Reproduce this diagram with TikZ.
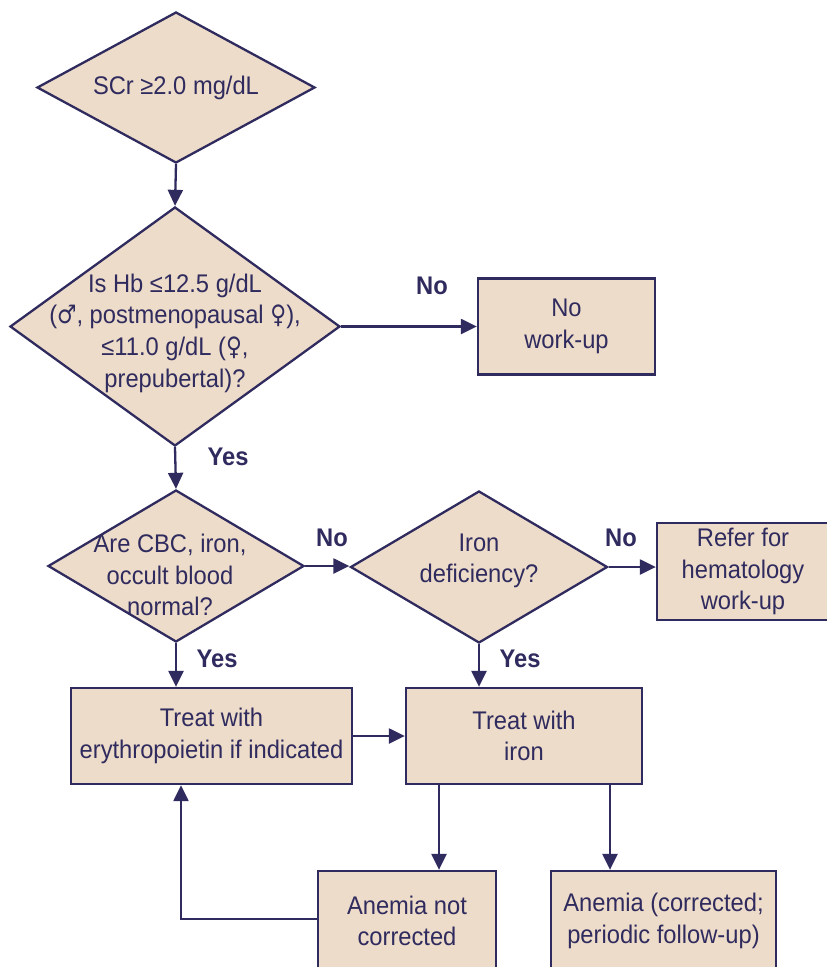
\documentclass[tikz,border=0pt]{standalone}
\usepackage{fontspec}
\setmainfont[FakeStretch=0.93]{Liberation Sans}
\newfontfamily\symfont[FakeStretch=0.85]{DejaVu Sans}
\usetikzlibrary{shapes.geometric,arrows.meta}
\definecolor{boxfill}{RGB}{237,220,201}
\definecolor{ink}{RGB}{48,43,94}
\newcommand{\male}{{\symfont ♂}}
\newcommand{\female}{{\symfont ♀}}
\tikzset{
  dia/.style={diamond,draw=ink,fill=boxfill,line width=2.3pt,inner sep=0pt},
  rbox/.style={rectangle,draw=ink,fill=boxfill,line width=2.3pt,inner sep=0pt,align=center,text=ink,font=\fontsize{25.5}{31.5}\selectfont},
  txt/.style={align=center,text=ink,inner sep=0pt,font=\fontsize{25.5}{31.7}\selectfont},
  lab/.style={text=ink,inner sep=0pt,font=\fontsize{25.5}{28}\selectfont\bfseries},
  conn/.style={draw=ink,line width=2.3pt,-{Triangle[length=16pt,width=15pt]}},
}
\begin{document}
\begin{tikzpicture}[x=1pt,y=-1pt]
\useasboundingbox (0,0) rectangle (827,967);
% diamonds
\node[dia,minimum width=278pt,minimum height=151pt] (d1) at (176,87.5) {};
\node[txt] (t1) at (d1) {SCr ≥2.0 mg/dL};
\node[dia,minimum width=330pt,minimum height=239pt] (d2) at (175,326.5) {};
\node[txt] (t2) at (175,333) {Is Hb ≤12.5 g/dL\\(\male, postmenopausal \female),\\≤11.0 g/dL (\female,\\prepubertal)?};
\node[dia,minimum width=256pt,minimum height=152pt] (d3) at (176,566) {};
\node[txt] (t3) at (170,575) {Are CBC, iron,\\occult blood\\normal?};
\node[dia,minimum width=257pt,minimum height=152pt] (d4) at (479,567) {};
\node[txt] (t4) at (479,561) {Iron\\deficiency?};
% boxes
\node[rbox,minimum width=177pt,minimum height=96pt] (b1) at (566.5,326.5) {No\\work-up};
\node[rbox,minimum width=172pt,minimum height=97pt] (b2) at (743,571.5) {Refer for\\hematology\\work-up};
\node[rbox,minimum width=281pt,minimum height=96pt] (b3) at (211.5,736) {Treat with\\erythropoietin if indicated};
\node[rbox,minimum width=236pt,minimum height=96pt] (b4) at (524,736) {Treat with\\iron};
\node[rbox,minimum width=178pt,minimum height=100pt] (b5) at (407,921) {Anemia not\\corrected};
\node[rbox,minimum width=225pt,minimum height=100pt] (b6) at (663.5,921) {Anemia (corrected;\\periodic follow-up)};
% connectors
\draw[conn] (d1.south) -- (d2.north);
\draw[conn] (d2.east) -- (d2.east -| b1.west);
\draw[conn] (d2.south) -- (d3.north);
\draw[conn] (d3.east) -- (d3.east -| d4.west);
\draw[conn] (d4.east) -- (d4.east -| b2.west);
\draw[conn] (d3.south) -- (d3.south |- b3.north);
\draw[conn] (d4.south) -- (d4.south |- b4.north);
\draw[conn] (b3.east) -- (b4.west);
\coordinate (p1) at (439,784);
\coordinate (p2) at (610,784);
\draw[conn] (p1) -- (p1 |- b5.north);
\draw[conn] (p2) -- (p2 |- b6.north);
\coordinate (q1) at (181,919);
\draw[conn] (b5.west |- q1) -- (q1) -- (q1 |- b3.south);
% labels
\node[lab] (l1) at (432,286) {No};
\node[lab] (l2) at (228,457) {Yes};
\node[lab] (l3) at (332,538) {No};
\node[lab] (l4) at (621,538) {No};
\node[lab] (l5) at (217,659) {Yes};
\node[lab] (l6) at (520,659) {Yes};
\end{tikzpicture}
\end{document}
